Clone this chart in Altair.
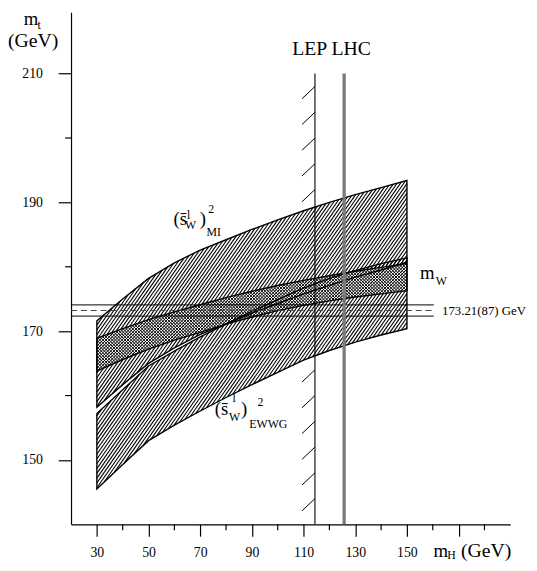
import altair as alt
import numpy as np
import pandas as pd

# ---------------- data ----------------
mh = [30, 40, 50, 60, 70, 80, 90, 100, 110, 120, 130, 140, 150]
mi_upper = [171.6, 175.0, 178.2, 180.6, 182.6, 184.2, 185.8, 187.3, 188.7, 190.0, 191.2, 192.3, 193.4]
mi_lower = [158.2, 161.7, 165.0, 167.4, 169.5, 171.1, 172.8, 174.3, 175.8, 177.1, 178.4, 179.5, 180.7]
ewwg_upper = [157.2, 160.9, 164.6, 166.9, 169.1, 171.1, 173.1, 174.9, 176.7, 178.2, 179.4, 180.5, 181.4]
ewwg_lower = [145.5, 149.3, 153.0, 155.4, 157.6, 159.7, 161.7, 163.6, 165.5, 167.0, 168.3, 169.4, 170.4]
mw_upper = [168.9, 170.4, 171.8, 173.0, 174.1, 175.2, 176.2, 177.1, 177.9, 178.6, 179.3, 179.9, 180.5]
mw_lower = [163.8, 165.6, 167.2, 168.6, 169.8, 171.1, 172.2, 173.2, 174.0, 174.7, 175.3, 175.8, 176.3]

mt_central = 173.21
mt_err = 0.87
lep_limit = 114.4
lhc_mass = 125.7

x_major = [30, 50, 70, 90, 110, 130, 150, 170]
x_minor = [40, 60, 80, 100, 120, 140, 160, 180]
y_major = [150, 170, 190, 210]
y_minor = [160, 180, 200]
lep_tick_y = [144, 148, 152, 156, 160, 164, 168, 172, 176, 180, 184, 188, 192, 196, 200, 204, 208]

# ---------------- layout ----------------
FONT = "Liberation Serif, 'Times New Roman', Times, serif"
W, H = 446, 520
XD = [20, 190]
YD = [140, 219.54]
pxx = W / (XD[1] - XD[0])
pxy = H / (YD[1] - YD[0])

XS = alt.Scale(domain=XD, nice=False, zero=False)
YS = alt.Scale(domain=YD, nice=False, zero=False)
XAX = alt.Axis(values=x_major, tickSize=12, tickWidth=1.2, tickColor="black",
               domainColor="black", domainWidth=1.2, labelFont=FONT, labelFontSize=14,
               labelColor="black", labelPadding=10, labelFlush=False, labelOverlap=False,
               labelExpr="datum.value <= 150 ? datum.label : ''", grid=False, title=None)
YAX = alt.Axis(values=y_major, tickSize=13, tickWidth=1.2, tickColor="black",
               domainColor="black", domainWidth=1.2, labelFont=FONT, labelFontSize=14,
               labelColor="black", labelPadding=16, labelFlush=False, labelOverlap=False,
               grid=False, title=None)


def X(f):
    return alt.X(f, type="quantitative", scale=XS, axis=XAX)


def Y(f):
    return alt.Y(f, type="quantitative", scale=YS, axis=YAX)


def XDat(v):
    return alt.XDatum(v, type="quantitative", scale=XS, axis=XAX)


def YDat(v):
    return alt.YDatum(v, type="quantitative", scale=YS, axis=YAX)


# ---------------- hatching derived from the band edges ----------------
xs = np.linspace(30, 150, 2401)


def hatch(lo, hi, angle_deg, spacing_px):
    k = np.tan(np.radians(angle_deg)) * pxx / pxy
    f = np.interp(xs, mh, lo)
    g = np.interp(xs, mh, hi)
    dc = abs(k) * spacing_px / pxx
    c_lo = (f - k * xs).min()
    c_hi = (g - k * xs).max()
    rows = []
    for c in np.arange(np.floor(c_lo / dc) * dc, c_hi + dc, dc):
        yy = c + k * xs
        idx = np.where((yy >= f) & (yy <= g))[0]
        if len(idx) >= 2:
            i0, i1 = idx[0], idx[-1]
            rows.append({"x": xs[i0], "y": yy[i0], "x2": xs[i1], "y2": yy[i1]})
    return pd.DataFrame(rows)


def hatch_layer(df, width=1.1):
    return alt.Chart(df).mark_rule(color="black", strokeWidth=width).encode(
        x=X("x"), y=Y("y"), x2="x2", y2="y2")


mi_h = hatch(mi_lower, mi_upper, 55, 3.4)
ew_h = hatch(ewwg_lower, ewwg_upper, 55, 3.4)
mw_h1 = hatch(mw_lower, mw_upper, 45, 3.2)
mw_h2 = hatch(mw_lower, mw_upper, -45, 3.2)

bands = pd.concat([
    pd.DataFrame({"mh": mh, "lo": mi_lower, "hi": mi_upper, "band": "MI"}),
    pd.DataFrame({"mh": mh, "lo": ewwg_lower, "hi": ewwg_upper, "band": "EWWG"}),
    pd.DataFrame({"mh": mh, "lo": mw_lower, "hi": mw_upper, "band": "mW"}),
])
mw_df = bands[bands.band == "mW"]

mw_white = alt.Chart(mw_df).mark_area(color="white", opacity=1).encode(
    x=X("mh"), y=Y("lo"), y2="hi")
outlines = alt.Chart(bands).mark_area(fillOpacity=0, stroke="black", strokeWidth=1.4).encode(
    x=X("mh"), y=Y("lo"), y2="hi", detail="band:N")

# ---------------- minor ticks ----------------
xminor = alt.Chart(pd.DataFrame({"v": x_minor})).mark_rule(color="black", strokeWidth=1.2).encode(
    x=X("v"), y=alt.value(H), y2=alt.value(H + 6))
yminor = alt.Chart(pd.DataFrame({"v": y_minor})).mark_rule(color="black", strokeWidth=1.2).encode(
    y=Y("v"), x=alt.value(0), x2=alt.value(-6))

# ---------------- top-mass lines ----------------
mt_df = pd.DataFrame({"y": [mt_central + mt_err, mt_central - mt_err],
                      "x": XD[0], "x2": 160.4})
mt_solid = alt.Chart(mt_df).mark_rule(color="black", strokeWidth=1).encode(
    y=Y("y"), x=X("x"), x2="x2")
mt_dash = alt.Chart(pd.DataFrame({"y": [mt_central], "x": XD[0], "x2": 160.4})).mark_rule(
    color="#444444", strokeWidth=1, strokeDash=[6, 4]).encode(
    y=Y("y"), x=X("x"), x2="x2")

# ---------------- LEP / LHC ----------------
lep_line = alt.Chart(pd.DataFrame({"x": [lep_limit], "y": 140, "y2": 210})).mark_rule(
    color="black", strokeWidth=1.1).encode(x=X("x"), y=Y("y"), y2="y2")
lep_lo = float(np.interp(lep_limit, mh, ewwg_lower))
lep_hi = float(np.interp(lep_limit, mh, mi_upper))
lt = [v for v in lep_tick_y if v < lep_lo or v - 1.9 > lep_hi]
lep_ticks = alt.Chart(pd.DataFrame({"y2": lt, "y": [v - 1.9 for v in lt],
                                    "x": lep_limit - 5.0, "x2": lep_limit})).mark_rule(
    color="black", strokeWidth=1).encode(x=X("x"), x2="x2", y=Y("y"), y2="y2")
lhc_line = alt.Chart(pd.DataFrame({"x": [lhc_mass], "y": 140, "y2": 210})).mark_rule(
    color="#7a7a7a", strokeWidth=3.3).encode(x=X("x"), y=Y("y"), y2="y2")


# ---------------- text ----------------
def txt(s, x, y, size):
    return alt.Chart(pd.DataFrame({"t": [s]})).mark_text(
        font=FONT, fontSize=size, align="left", baseline="alphabetic", color="black").encode(
        x=XDat(x), y=YDat(y), text="t")


def ptxt(s, x, y, size):
    return alt.Chart(pd.DataFrame({"t": [s]})).mark_text(
        font=FONT, fontSize=size, align="left", baseline="alphabetic", color="black").encode(
        x=alt.value(x), y=alt.value(y), text="t")


texts = [
    txt("LEP LHC", 105.6, 212.95, 20),
    # (s_W^l)^2_MI
    txt("(s\u0304", 59.7, 186.55, 19), txt("l", 64.9, 187.4, 12), txt("W", 64.15, 185.9, 12),
    txt(")", 69.8, 186.55, 19), txt("2", 73.1, 188.3, 12), txt("MI", 72.4, 184.8, 12),
    # (s_W^l)^2_EWWG
    txt("(s\u0304", 75.6, 157.0, 19), txt("l", 82.5, 158.95, 12), txt("W", 81.1, 156.1, 12),
    txt(")", 85.8, 157.0, 19), txt("2", 92.2, 158.35, 12), txt("EWWG", 89.0, 154.9, 12),
    # m_W
    txt("m", 155.05, 178.1, 19), txt("W", 161.2, 177.2, 12),
    txt(f"{mt_central:.2f}({round(mt_err * 100)}) GeV", 163.6, 172.5, 13),
    # axis titles
    ptxt("m", -48, 13, 19), ptxt("t", -34, 17, 12), ptxt("(GeV)", -64, 35, 20),
    ptxt("m", 368, 553, 19), ptxt("H", 382, 555, 12), ptxt("(GeV)", 396, 553, 20),
]

chart = alt.layer(
    hatch_layer(mi_h), hatch_layer(ew_h), mw_white,
    hatch_layer(mw_h1, 1.0), hatch_layer(mw_h2, 1.0),
    outlines, mt_solid, mt_dash, lep_line, lep_ticks, lhc_line,
    xminor, yminor, *texts,
).properties(
    width=W, height=H,
    padding={"left": 64, "top": 0, "right": 19, "bottom": 35},
    autosize=alt.AutoSizeParams(type="none"),
    background="white",
).configure_view(stroke=None)

chart.save("out.html", embed_options={"renderer": "svg", "actions": False})
